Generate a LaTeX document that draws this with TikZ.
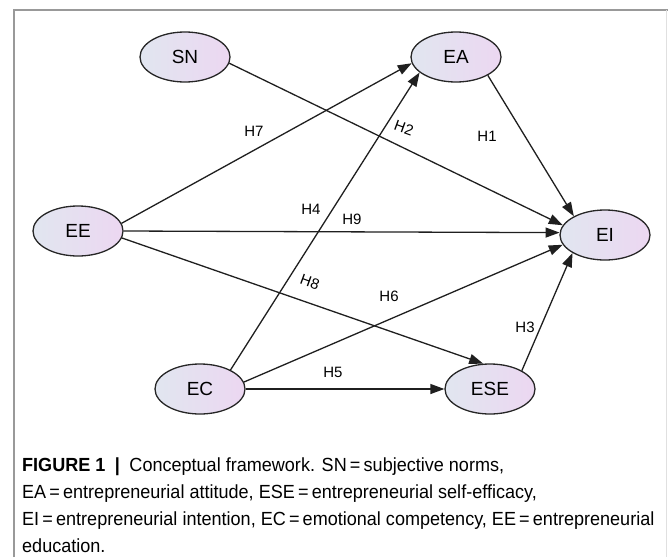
\documentclass[tikz,border=0pt]{standalone}
\usepackage{fontspec}
\setmainfont{Liberation Sans}
\newfontfamily\capfont[FakeStretch=0.95]{Liberation Sans}
\usetikzlibrary{shapes.geometric,arrows.meta}
\definecolor{ovleft}{HTML}{E1E6F0}
\definecolor{ovright}{HTML}{ECD7F1}
\tikzset{
  construct/.style={ellipse,draw=black!85,line width=1.3pt,left color=ovleft,right color=ovright,
    minimum width=90pt,minimum height=50pt,inner sep=0pt,font=\fontsize{19}{19}\selectfont},
  path/.style={->,line width=1.3pt,draw=black!88},
  hlabel/.style={font=\fontsize{15}{15}\selectfont}
}
\begin{document}
\begin{tikzpicture}[x=1pt,y=-1pt,>={Triangle[length=14pt,width=10pt]}]
			\useasboundingbox (0,0) rectangle (668,557);
			% frame
			\draw[line width=1.5pt,color=black!40] (14,557)--(14,10)--(668,10);
			\draw[line width=0.8pt,color=black!12] (666,10)--(666,557);
			% constructs
			\node[construct] (SN) at (185,57) {SN};
			\node[construct] (EA) at (456,57) {EA};
			\node[construct] (EE) at (78,231) {EE};
			\node[construct] (EI) at (605,235) {EI};
			\node[construct] (EC) at (200,389) {EC};
			\node[construct] (ESE) at (490,389) {ESE};
			% hypotheses
			\draw[path] (SN.352)--(EI.167);
			\draw[path] (EE.10)--(EA.188);
			\draw[path] (EE.0)--(EI.177);
			\draw[path] (EE.351)--(ESE.105);
			\draw[path] (EC.32)--(EA.203);
			\draw[path] (EC.9)--(EI.193);
			\draw[path] (EC.0)--(ESE.180);
			\draw[path] (EA.330)--(EI.149);
			\draw[path] (ESE.30)--(EI.209);
			\node[hlabel] (h7) at (254,131) {H7};
			\node[hlabel,rotate=-20,inner sep=1pt] (h2) at (404,128) {H2};
			\node[hlabel] (h1) at (487,136) {H1};
			\node[hlabel] (h4) at (311,209) {H4};
			\node[hlabel] (h9) at (352,219) {H9};
			\node[hlabel,rotate=-20,inner sep=1pt] (h8) at (310,282) {H8};
			\node[hlabel] (h6) at (389,296) {H6};
			\node[hlabel] (h3) at (525,327) {H3};
			\node[hlabel] (h5) at (333,372) {H5};
			% caption
			\node[anchor=north west,align=left,inner sep=0pt,font=\capfont\fontsize{19}{27}\selectfont] (cap) at (22,458)
			{\textbf{FIGURE 1}\enspace\textbf{|}\enspace Conceptual framework. SN\,=\,subjective norms,\\
			EA\,=\,entrepreneurial attitude, ESE\,=\,entrepreneurial self-efficacy,\\
			EI\,=\,entrepreneurial intention, EC\,=\,emotional competency, EE\,=\,entrepreneurial\\
			education.};
	\end{tikzpicture}
\end{document}
